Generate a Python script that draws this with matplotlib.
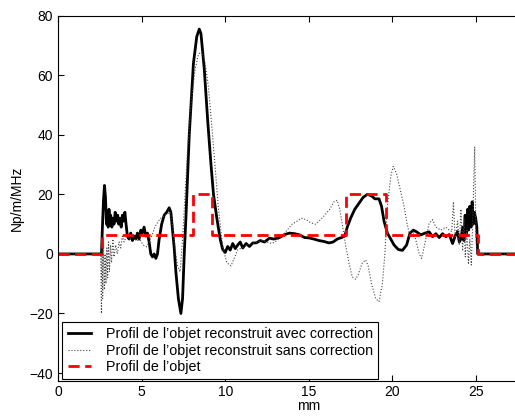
import numpy as np
import matplotlib
matplotlib.use("Agg")
import matplotlib.pyplot as plt

plt.rcParams['font.family'] = ['Liberation Sans', 'DejaVu Sans']
plt.rcParams['font.size'] = 10

# profil de l'objet (reference)
obj_x = [0, 2.62, 2.62, 8.05, 8.05, 9.23, 9.23, 17.25, 17.25, 19.6, 19.6, 25.1, 25.1, 30]
obj_y = [0, 0, 6.4, 6.4, 20, 20, 6.4, 6.4, 20, 20, 6.4, 6.4, 0, 0]

# reconstruit avec correction
avec_x = [0.0, 2.60, 2.65, 2.72, 2.78, 2.84, 2.90, 2.95, 3.00, 3.05, 3.10, 3.15, 3.22, 3.28,
          3.35, 3.42, 3.50, 3.57, 3.63, 3.70, 3.78, 3.85, 3.92, 4.00, 4.07, 4.15, 4.25, 4.35,
          4.45, 4.55, 4.65, 4.75, 4.85, 4.95, 5.05, 5.15, 5.25, 5.35, 5.45, 5.55, 5.65, 5.75,
          5.85, 5.95, 6.05, 6.20, 6.35, 6.50, 6.65, 6.75, 6.85, 6.95, 7.05, 7.20, 7.35, 7.45,
          7.55, 7.65, 7.85, 8.10, 8.30, 8.45, 8.55, 8.75, 8.95, 9.15, 9.30, 9.50, 9.70, 9.85,
          10.00, 10.15, 10.30, 10.45, 10.60, 10.75, 10.90, 11.05, 11.25, 11.45, 11.65, 11.85,
          12.10, 12.35, 12.65, 12.90, 13.25, 13.55, 13.85, 14.15, 14.45, 14.75, 15.00, 15.30,
          15.60, 15.90, 16.20, 16.45, 16.70, 16.95, 17.15, 17.30, 17.50, 17.75, 18.00, 18.25,
          18.50, 18.75, 18.95, 19.20, 19.35, 19.50, 19.70, 19.90, 20.10, 20.35, 20.60, 20.85,
          21.05, 21.25, 21.45, 21.70, 21.95, 22.20, 22.40, 22.60, 22.80, 23.00, 23.20, 23.40,
          23.60, 23.75, 23.90, 24.00, 24.10, 24.20, 24.28, 24.35, 24.42, 24.50, 24.56, 24.63,
          24.70, 24.77, 24.84, 24.90, 24.98, 25.05, 25.10, 30.0]
avec_y = [0, 0, 8, 18, 23, 19, 10, 13, 9, 15, 10, 13, 9, 12,
          10, 14, 11, 13, 10, 12, 9, 13, 11, 14, 10, 6, 5, 7,
          4.5, 6, 5, 7, 5, 8, 7, 9, 6, 7, 4, 0, -1, 0,
          -1.5, 0, 5, 10, 13, 14, 15.5, 14, 8, 2, -6, -15, -20, -15,
          0, 12, 40, 64, 73, 75.5, 74, 62, 45, 30, 20, 12, 5, 1.5,
          0.5, 2.5, 1.3, 3.5, 1.8, 3, 4, 2, 3.5, 2.5, 3.7, 3.7,
          4.5, 4, 5.3, 5, 5.5, 6.5, 7, 6.8, 6.4, 5.5, 5.4, 5,
          4.5, 4.2, 3.7, 4, 5, 5.5, 6, 9, 12, 15, 17, 19,
          20, 19.5, 18.5, 18.5, 16, 11, 7, 5, 3, 1.5, 1.2, 3,
          7, 8, 7.4, 6.4, 7, 7.4, 5.8, 6.8, 5.5, 6.8, 5.8, 6.5,
          3.5, 6, 7.5, 4, 5, 9, 4.5, 13, 6, 15, 8, 16,
          9, 17.5, 10, 14, 12, 9, 0, 0]

# reconstruit sans correction
sans_x = [0, 2.55, 2.60, 2.63, 2.67, 2.72, 2.77, 2.82, 2.87, 2.92, 2.97, 3.02, 3.08, 3.14,
          3.20, 3.28, 3.35, 3.45, 3.55, 3.65, 3.75, 3.85, 3.95, 4.10, 4.30, 4.50, 4.70, 4.90,
          5.10, 5.30, 5.45, 5.60, 5.80, 6.00, 6.15, 6.40, 6.70, 6.85, 7.00, 7.15, 7.30, 7.45,
          7.60, 7.75, 7.95, 8.20, 8.40, 8.60, 8.80, 9.00, 9.30, 9.60, 9.85, 10.10, 10.35, 10.50,
          10.75, 11.00, 11.30, 11.60, 11.90, 12.20, 12.50, 12.80, 13.10, 13.40, 13.70, 14.00,
          14.30, 14.55, 14.85, 15.10, 15.40, 15.70, 15.95, 16.25, 16.50, 16.70, 16.85, 17.00,
          17.20, 17.40, 17.60, 17.80, 17.95, 18.20, 18.40, 18.55, 18.75, 19.00, 19.20, 19.40,
          19.55, 19.70, 19.90, 20.05, 20.25, 20.45, 20.70, 20.85, 21.00, 21.20, 21.40, 21.60,
          21.75, 21.95, 22.20, 22.40, 22.60, 22.90, 23.20, 23.40, 23.55, 23.65, 23.75, 23.90,
          24.00, 24.10, 24.20, 24.28, 24.36, 24.45, 24.55, 24.63, 24.72, 24.80, 24.92, 25.00,
          25.05, 30]
sans_y = [0, 0, -20, 5, -15, 3, -12, 0, -10, 2, -8, 4, -6, 3,
          -3, 5, -1, 3, 0, 4, 2, 6, 4, 6, 5, 5.5, 4.5, 4.7,
          3, 2.4, 4, 6, 9, 11, 12, 13, 14, 10, 1.4, -4, -6, 5,
          20, 35, 50, 62, 67, 68, 64, 56, 36, 15, 2.4, -3, -4, -2,
          1.4, 2, 3, 3.5, 4, 4.5, 4, 3.5, 4.5, 6, 8, 10,
          11, 12, 11.5, 10.5, 10, 11.5, 13, 15, 17.5, 18, 15, 10,
          3, -3, -7.7, -8.5, -7, -3, -2, -4, -10, -15, -16, -10,
          0, 16, 26, 29.4, 27, 22, 16, 11, 7, 8, 4.7, 0,
          -1.5, 3.7, 10.4, 11.5, 9, 8, 9, 8, 7.5, 17.5, 5, 11,
          3, 15, 1, 12, -1, 8, -3.5, 5, -3.7, 10, 36, 5,
          0, 0]

fig = plt.figure(figsize=(5.15, 4.17), dpi=100)
ax = fig.add_axes([58 / 515, 36.5 / 417, 501.6 / 515, 364.8 / 417])

ax.plot(avec_x, avec_y, color="black", linewidth=2.0, linestyle="-",
        label="Profil de l\u2019objet reconstruit avec correction")
ax.plot(sans_x, sans_y, color="#444444", linewidth=0.8, linestyle=":",
        label="Profil de l\u2019objet reconstruit sans correction")
ax.plot(obj_x, obj_y, color="red", linewidth=2.0, linestyle=(0, (4, 2)),
        label="Profil de l\u2019objet")

ax.set_xlim(0, 30)
ax.set_ylim(-42.5, 80)
ax.set_xticks([0, 5, 10, 15, 20, 25])
ax.set_yticks([-40, -20, 0, 20, 40, 60, 80])
ax.tick_params(direction="in", top=True, right=True, length=4, width=0.8)
ax.set_xlabel("mm", labelpad=0)
ax.set_ylabel("Np/m/MHz", labelpad=4)

leg = ax.legend(loc="lower left", bbox_to_anchor=(0.008, 0.003), borderaxespad=0,
                fancybox=False, edgecolor="black", framealpha=1, handlelength=1.65,
                handletextpad=1.0, labelspacing=0.15, borderpad=0.4, fontsize=10.3)
leg.get_frame().set_linewidth(0.8)

fig.savefig("out.png", dpi=100)
